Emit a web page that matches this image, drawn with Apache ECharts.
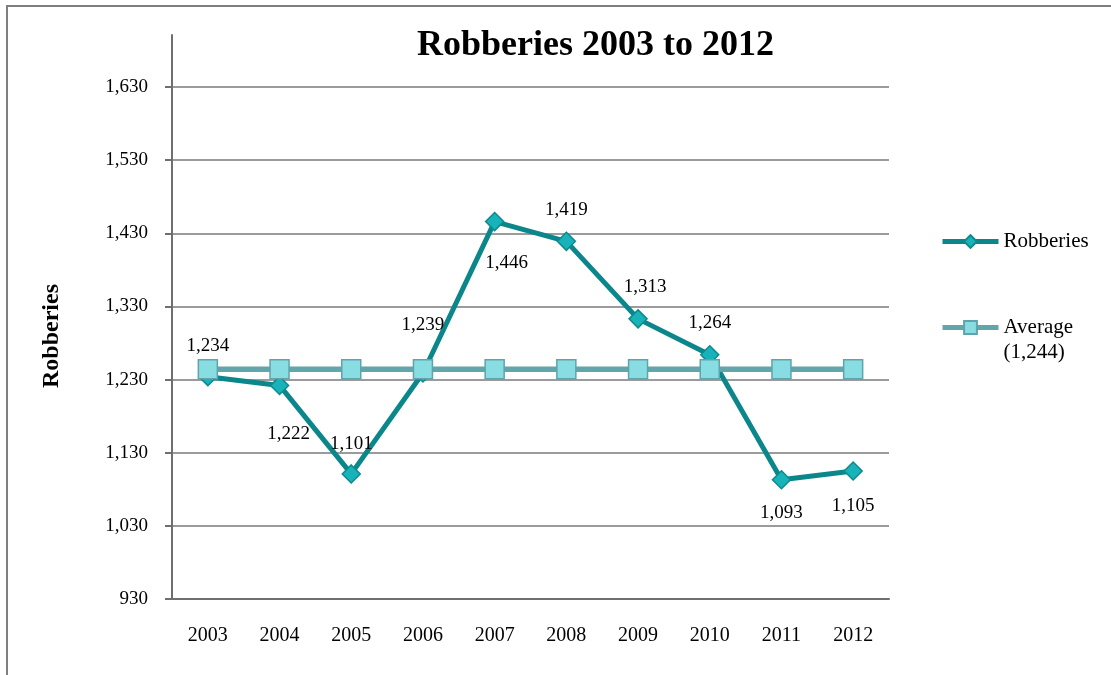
<!DOCTYPE html>
<html>
<head>
<meta charset="utf-8">
<script src="https://cdn.jsdelivr.net/npm/echarts@6/dist/echarts.min.js"></script>
<style>
html,body{margin:0;padding:0;background:#fff;}
#chart{width:1111px;height:675px;}
</style>
</head>
<body>
<div id="chart"></div>
<script>
const years = ['2003','2004','2005','2006','2007','2008','2009','2010','2011','2012'];
const robberies = [1234, 1222, 1101, 1239, 1446, 1419, 1313, 1264, 1093, 1105];
const averageValues = [1244, 1244, 1244, 1244, 1244, 1244, 1244, 1244, 1244, 1244];
const yTicks = { min: 930, max: 1630, step: 100 };
const averageLabel = '(1,244)';

// label placement (style only)
const labelOffsets = [[0,-31],[9,49],[0,-30],[0,-48],[12,41],[0,-31],[7,-32],[0,-32],[0,33],[0,35]];

const FONT = '"Liberation Serif", "DejaVu Serif", serif';
const fmt = v => Number(v).toLocaleString('en-US');

const chart = echarts.init(document.getElementById('chart'), null, {renderer:'canvas'});

const robData = robberies.map((v, i) => ({
  value: v,
  label: { show: true, position: 'inside', offset: labelOffsets[i] }
}));

const option = {
  backgroundColor: '#ffffff',
  animation: false,
  title: {
    text: 'Robberies 2003 to 2012',
    left: 412, top: 23,
    textStyle: { fontFamily: FONT, fontWeight: 'bold', fontSize: 36, color: '#000' }
  },
  graphic: [{
    type: 'rect', silent: true,
    shape: { x: 7, y: 6, width: 1300, height: 900 },
    style: { fill: 'none', stroke: '#7f7f7f', lineWidth: 2 }
  }],
  legend: {
    orient: 'vertical',
    left: 940, top: 229,
    padding: 0,
    itemWidth: 56, itemHeight: 16,
    itemGap: 36,
    lineStyle: { width: 5 },
    textStyle: { fontFamily: FONT, fontSize: 21, color: '#000', lineHeight: 25 },
    formatter: name => name === 'Average' ? '\nAverage\n' + averageLabel : name,
    data: [
      { name: 'Robberies' },
      { name: 'Average' }
    ]
  },
  grid: [
    { left: 172, right: 222, top: 87, bottom: 76, containLabel: false },
    { left: 172, right: 222, top: 35, bottom: 76, containLabel: false }
  ],
  xAxis: [{
    type: 'category', data: years, gridIndex: 0,
    boundaryGap: true,
    axisLine: { lineStyle: { color: '#6f6f6f', width: 2 } },
    axisTick: { show: false },
    axisLabel: { fontFamily: FONT, fontSize: 20, color: '#000', margin: 27 }
  }, {
    type: 'category', data: years, gridIndex: 1, show: false
  }],
  yAxis: [{
    type: 'value', gridIndex: 0,
    min: yTicks.min, max: yTicks.max, interval: yTicks.step,
    name: 'Robberies', nameLocation: 'middle', nameGap: 108,
    nameTextStyle: { fontFamily: FONT, fontWeight: 'bold', fontSize: 24, color: '#000', padding: [0, 0, 0, 14] },
    axisLine: { show: true, lineStyle: { color: '#6f6f6f', width: 2 } },
    axisTick: { show: true, length: 7, lineStyle: { color: '#6f6f6f', width: 2 } },
    axisLabel: { fontFamily: FONT, fontSize: 19, color: '#000', margin: 24, formatter: fmt },
    splitLine: { show: true, lineStyle: { color: '#7a7a7a', width: 1.5 } }
  }, {
    type: 'value', gridIndex: 1, min: 0, max: 1,
    axisLine: { show: true, lineStyle: { color: '#6f6f6f', width: 2 } },
    axisTick: { show: false }, axisLabel: { show: false }, splitLine: { show: false }
  }],
  series: [{
    name: 'Robberies', type: 'line',
    xAxisIndex: 0, yAxisIndex: 0,
    data: robData,
    symbol: 'diamond', symbolSize: 18,
    lineStyle: { color: '#0b878c', width: 5 },
    itemStyle: { color: '#17b3b9', borderColor: '#0d8a8f', borderWidth: 1.5 },
    label: { fontFamily: FONT, fontSize: 19, color: '#000', formatter: p => fmt(p.value) },
    z: 3
  }, {
    name: 'Average', type: 'line',
    xAxisIndex: 0, yAxisIndex: 0,
    data: averageValues,
    symbol: 'rect', symbolSize: 19,
    lineStyle: { color: '#62a6ac', width: 5.5 },
    itemStyle: { color: '#88dde3', borderColor: '#5fa4aa', borderWidth: 1.5 },
    z: 4
  }]
};
chart.setOption(option);
</script>
</body>
</html>
